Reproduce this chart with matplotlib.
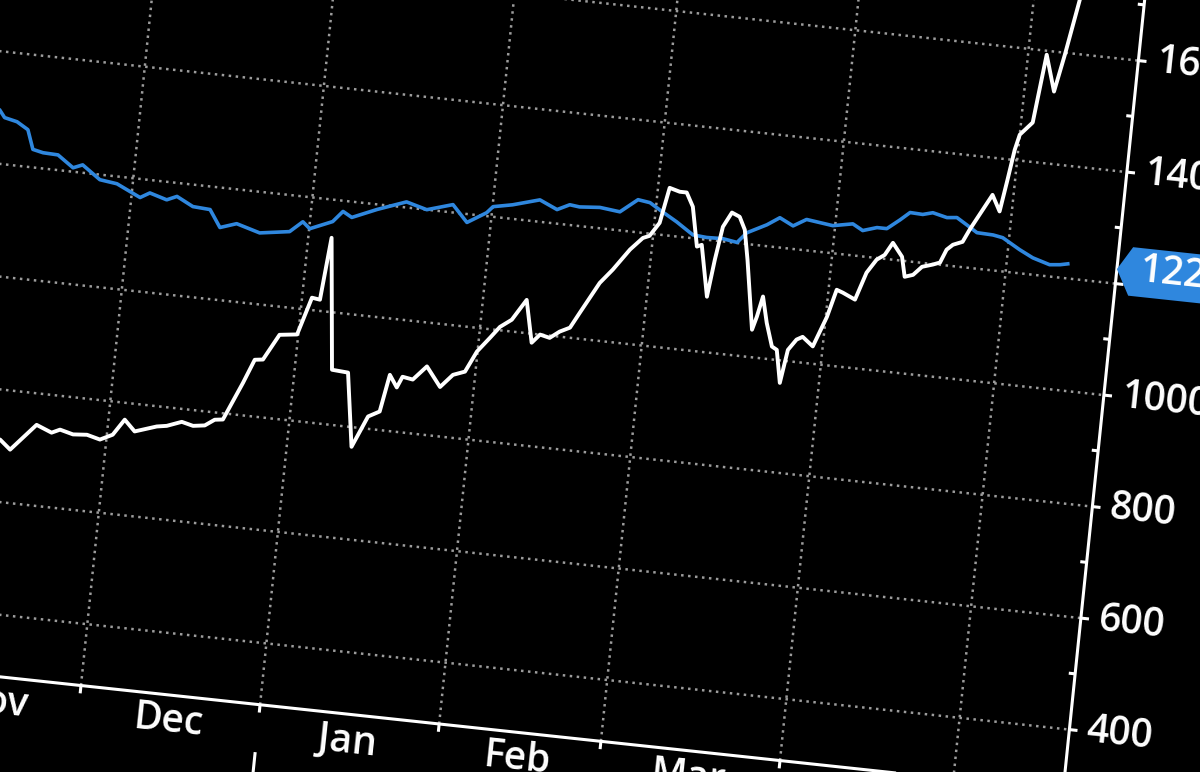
import numpy as np
import matplotlib
matplotlib.use("Agg")
import matplotlib.pyplot as plt
from matplotlib.transforms import Affine2D
from matplotlib.patches import Polygon

plt.rcParams['font.family'] = ['Open Sans', 'DejaVu Sans']

# ---------------- data (days counted from 2016-11-01, prices in USD) ----------------
btc_day = [8, 11.8, 13.7, 17.8, 20.5, 21.9, 24.2, 26.6, 28.9, 31.0, 32.8, 34.7, 38.4, 40.1,
           42.6, 44.6, 46.6, 48.2, 49.6, 52.4, 54.0, 55.4, 57.8, 60.8, 62.7, 64.1, 65.0, 67.4,
           70.2, 72.1, 74.4, 76.3, 77.4, 78.8, 79.6, 81.4, 83.6, 86.2, 88.2, 90.2, 91.9, 93.9,
           95.4, 97.3, 99.5, 101.1, 102.4, 104.1, 105.7, 107.4, 108.8, 111.7, 113.7, 116.3,
           118.3, 119.4, 120.9, 122.0, 123.8, 125.0, 126.3, 127.7, 128.5, 130.3, 131.0, 131.8,
           133.1, 134.5, 135.6, 136.6, 138.6, 139.2, 139.9, 141.0, 142.3, 143.2, 144.3, 145.1,
           146.4, 147.4, 149.3, 151.2, 152.4, 153.5, 155.7, 157.2, 158.7, 160.0, 161.2, 163.0,
           163.8, 165.2, 166.6, 168.4, 169.6, 170.5, 171.5, 173.1, 174.1, 176.0, 177.4, 178.9,
           179.7, 180.4, 181.0, 183.0, 184.2, 186.1, 187.3, 188.9, 191]
btc_usd = [712, 711, 695, 744, 733, 740, 734, 736, 730, 741, 770, 751, 764, 767,
           777, 772, 775, 787, 789, 858, 901, 903, 950, 954, 1022, 1020, 1132, 898,
           896, 765, 822, 833, 900, 879, 899, 896, 922, 888, 912, 920, 958, 985,
           1006, 1021, 1059, 984, 1000, 996, 1009, 1018, 1046, 1103, 1129, 1168,
           1191, 1196, 1221, 1285, 1280, 1280, 1256, 1186, 1190, 1099, 1166, 1226,
           1253, 1247, 1225, 1172, 1049, 1073, 1110, 1064, 1023, 1018, 960, 1020,
           1040, 1046, 1031, 1086, 1136, 1132, 1122, 1172, 1197, 1207, 1230, 1207,
           1172, 1177, 1193, 1199, 1204, 1228, 1238, 1245, 1268, 1306, 1334, 1306,
           1364, 1418, 1446, 1470, 1593, 1529, 1596, 1697, 1790]

gold_day = [4, 5.9, 6.9, 9.1, 11.1, 12.3, 14.1, 16.7, 19.5, 21.1, 24.3, 27.3, 31.5, 33.1,
            36.1, 37.8, 40.7, 43.7, 45.7, 48.5, 52.6, 57.7, 59.8, 61.1, 64.9, 66.5, 68.1,
            72.3, 77.2, 80.8, 85.2, 87.9, 91.1, 92.1, 95.4, 100.0, 103.1, 105.2, 106.9,
            110.4, 113.9, 116.8, 118.9, 120.7, 123.8, 126.8, 129.2, 132.0, 134.5, 136.0,
            139.3, 141.4, 143.8, 146.0, 150.6, 154.0, 155.8, 158.2, 159.9, 162.0, 163.6,
            165.8, 167.5, 170.0, 171.7, 173.5, 175.4, 178.2, 179.9, 183.0, 185.4, 188.4,
            190.2, 191.5]
gold_usd = [1300, 1296, 1283, 1278, 1266, 1232, 1228, 1227, 1207, 1214, 1191, 1187, 1167, 1177,
            1168, 1176, 1161, 1159, 1129, 1139, 1127, 1135, 1155, 1144, 1161, 1181, 1172,
            1191, 1210, 1200, 1214, 1185, 1206, 1218, 1225, 1239, 1225, 1236, 1234,
            1237, 1233, 1258, 1255, 1244, 1226, 1206, 1204, 1205, 1201, 1220,
            1238, 1253, 1241, 1255, 1249, 1256, 1246, 1254, 1254, 1272, 1287,
            1286, 1291, 1285, 1287, 1276, 1264, 1263, 1260, 1242, 1230, 1221,
            1223, 1226]

month_starts = [0, 30, 61, 92, 120, 151, 181]
month_labels = ['Nov', 'Dec', 'Jan', 'Feb', 'Mar', 'Apr', 'May']
month_ends = [30, 61, 92, 120, 151, 181, 212]
y_major = [400, 600, 800, 1000, 1200, 1400, 1600, 1800]
y_minor = [500, 700, 900, 1100, 1300, 1500, 1700]

x_end = 200      # date of the right-hand value axis
y_floor = 290    # value where the date axis sits

# ---------------- figure ----------------
fig = plt.figure(figsize=(12, 7.72), dpi=100, facecolor='black')
ax = fig.add_axes([0, 0, 1, 1])
ax.set_facecolor('black')
ax.set_xlim(0, 1200)
ax.set_ylim(772, 0)
ax.set_axis_off()

# the chart is a photo of a tilted screen: map (day, USD) onto the photographed plane
screen = (Affine2D().translate(-30, -1000)
          + Affine2D.from_values(5.777, 0.620, 0.0575, -0.5575, 121.8, 289.7))
T = screen + ax.transData

grid_kw = dict(color='#9c9c9c', lw=1.8, ls=(0, (1.0, 1.8)), transform=T, zorder=1)
for v in y_major:
    ax.plot([-40, x_end], [v, v], **grid_kw)
for d in month_starts:
    ax.plot([d, d], [y_floor, 2100], **grid_kw)

# series
ax.plot(gold_day, gold_usd, color='#2f87de', lw=2.6, transform=T, zorder=3,
        solid_joinstyle='round')
ax.plot(btc_day, btc_usd, color='white', lw=2.8, transform=T, zorder=4,
        solid_joinstyle='round')

# axes lines
axis_kw = dict(color='white', lw=2.2, transform=T, zorder=5, solid_capstyle='butt')
ax.plot([-40, x_end], [y_floor, y_floor], **axis_kw)
ax.plot([x_end, x_end], [100, 2100], **axis_kw)

# date ticks and labels
for d in month_starts:
    ax.plot([d, d], [y_floor, y_floor - 14], **axis_kw)
ax.plot([61, 61], [205, 100], **axis_kw)   # year separator
txt_kw = dict(color='white', fontsize=28, fontweight='semibold', rotation=-6.1,
              rotation_mode='anchor', transform=T, zorder=6)
for s, e, lab in zip(month_starts, month_ends, month_labels):
    ax.text((s + e) / 2, y_floor - 48, lab, ha='center', va='center', **txt_kw)

# value ticks and labels
for v in y_major:
    ax.plot([x_end, x_end + 1.4], [v, v], **axis_kw)
    ax.text(x_end + 3.0, v, f'{v}', ha='left', va='center', **txt_kw)
for v in y_minor:
    ax.plot([x_end - 1.1, x_end], [v, v], **axis_kw)

# last-value tag of the blue series
last = gold_usd[-1]
tag = np.array([[x_end, last], [x_end + 2.4, last + 42], [x_end + 20, last + 42],
                [x_end + 20, last - 45], [x_end + 2.4, last - 45]])
ax.add_patch(Polygon(tag, closed=True, facecolor='#2f87de', edgecolor='none',
                     transform=T, zorder=6))
ax.text(x_end + 3.8, last, f'{last}', ha='left', va='center', **txt_kw)

fig.savefig('out.png', dpi=100, facecolor='black')
